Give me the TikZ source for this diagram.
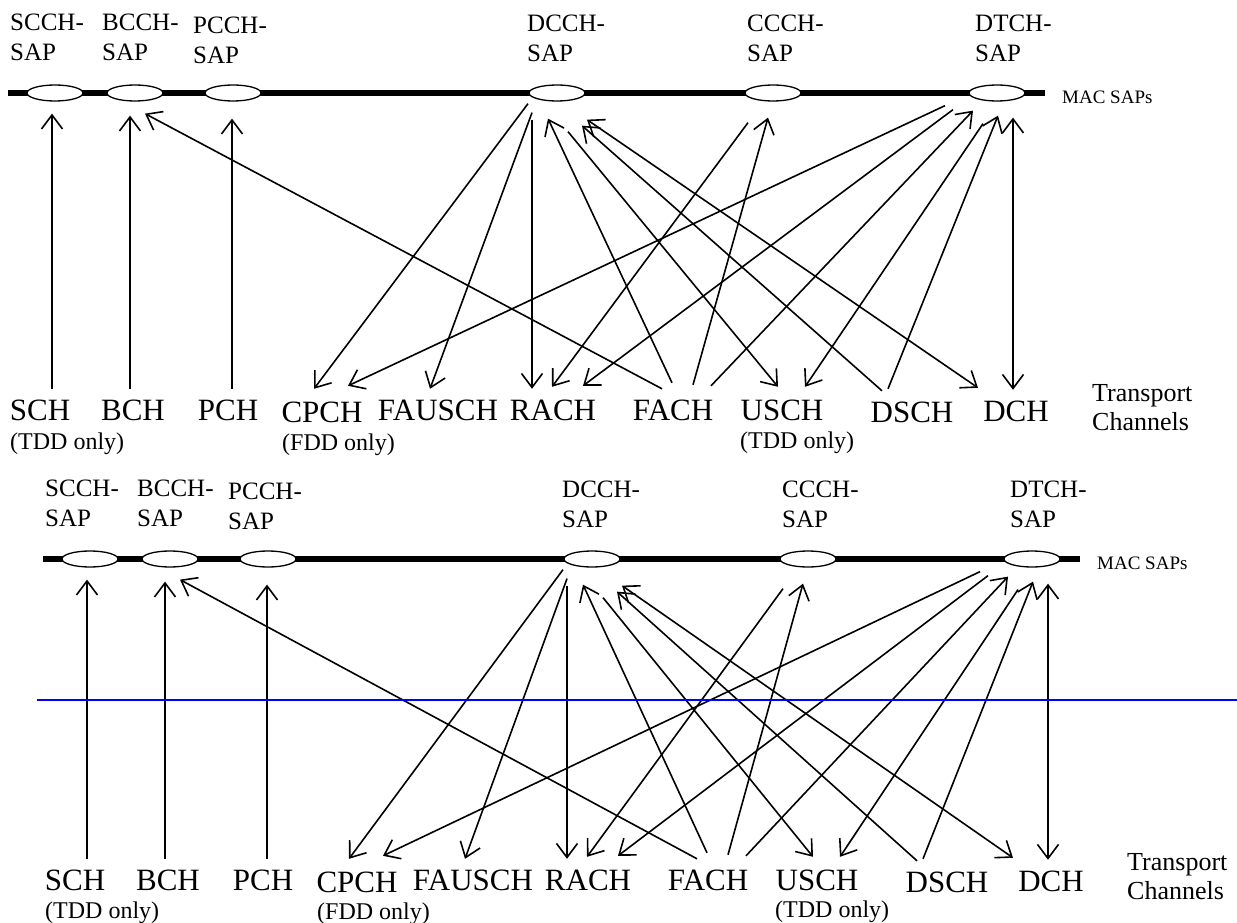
\documentclass[tikz,border=0pt]{standalone}
\usepackage{fontspec}
\setmainfont{Liberation Serif}
\usepackage{tikz}
\usetikzlibrary{shapes,arrows.meta}
\usetikzlibrary{positioning}
\usetikzlibrary{calc}
\definecolor{lineblue}{RGB}{0,0,255}
\newcommand\mysap[5]{%
  \node[sapnode] (#1) at (#2,93) {};
  \node[saplabel] (#1-lbl) at (#3,#4) {#5-\\SAP};
}
\newcommand\mychan[4]{%
  \node[channode] (#1) at (#2,#3) {#4};
}
\newcommand\macdiagram[2]{%
  \draw[macbar] (8,93) -- (1045,93);
  \mysap{scch}{55}{10}{14}{SCCH}
  \mysap{bcch}{135}{102}{14}{BCCH}
  \mysap{pcch}{233}{193}{17}{PCCH}
  \mysap{dcch}{557}{527}{15}{DCCH}
  \mysap{ccch}{773}{747}{15}{CCCH}
  \mysap{dtch}{997}{975}{15}{DTCH}
  \node[maclabel] (mac) at (1062,97) {MAC SAPs};
  \mychan{sch}{40}{420+#1}{SCH}
  \mychan{bch}{133}{420+#1}{BCH}
  \mychan{pch}{228}{420+#1}{PCH}
  \mychan{cpch}{322}{422+#1}{CPCH}
  \mychan{fausch}{438}{420+#1}{FAUSCH}
  \mychan{rach}{553}{420+#1}{RACH}
  \mychan{fach}{673}{420+#1}{FACH}
  \mychan{usch}{782}{420+#1}{USCH}
  \mychan{dsch}{912}{422+#1}{DSCH}
  \mychan{dch}{1016}{421+#1}{DCH}
  \node[sublabel] (sch-note) at (10,449+#2) {(TDD only)};
  \node[sublabel] (cpch-note) at (282,450+#2) {(FDD only)};
  \node[sublabel] (usch-note) at (740,448+#2) {(TDD only)};
  \node[notelabel] (tc) at (1092,384+#2) {Transport\\Channels};
  \draw[conn,->] ([xshift=12pt]sch.north) -- ([xshift=-3pt,yshift=-12pt]scch.south);
  \draw[conn,->] ([xshift=-3pt]bch.north) -- ([xshift=-5pt,yshift=-14pt]bcch.south);
  \draw[conn,->] ([xshift=4pt]pch.north) -- ([xshift=-1pt,yshift=-17pt]pcch.south);
  \draw[conn,->] ([xshift=-11pt]fach.north) -- ([xshift=10pt,yshift=-12pt]bcch.south);
  \draw[conn,->] ([xshift=-29pt,yshift=-2pt]dcch.south) -- ([xshift=-8pt,yshift=2pt]cpch.north);
  \draw[conn,->] ([xshift=-25pt,yshift=-11pt]dcch.south) -- ([xshift=-8pt]fausch.north);
  \draw[conn,->] ([xshift=-25pt,yshift=-18pt]dcch.south) -- ([xshift=-21pt]rach.north);
  \draw[conn,->] ([xshift=-1pt,yshift=6pt]fach.north) -- ([xshift=-9pt,yshift=-17pt]dcch.south);
  \draw[conn,->] ([xshift=11pt,yshift=-30pt]dcch.south) -- ([xshift=-4pt,yshift=2pt]usch.north);
  \draw[conn,->] ([xshift=-30pt]dsch.north) -- ([xshift=25pt,yshift=-24pt]dcch.south);
  \draw[conn,<->] ([xshift=30pt,yshift=-18pt]dcch.south) -- ([xshift=-38pt,yshift=2pt]dch.north);
  \draw[conn,->] ([xshift=-25pt,yshift=-21pt]ccch.south) -- ([xshift=-1pt,yshift=2pt]rach.north);
  \draw[conn,->] ([xshift=20pt,yshift=4pt]fach.north) -- ([xshift=-5pt,yshift=-16pt]ccch.south);
  \draw[conn,->] ([xshift=-52pt,yshift=-4pt]dtch.south) -- ([xshift=26pt,yshift=5pt]cpch.north);
  \draw[conn,->] ([xshift=-44pt,yshift=-8pt]dtch.south) -- ([xshift=30pt,yshift=3pt]rach.north);
  \draw[conn,->] ([xshift=38pt,yshift=3pt]fach.north) -- ([xshift=-24pt,yshift=-9pt]dtch.south);
  \draw[conn,->] ([xshift=-14pt,yshift=-22pt]dtch.south) -- ([xshift=23pt,yshift=2pt]usch.north);
  \draw[conn,->] ([xshift=-24pt,yshift=2pt]dsch.north) -- ([xshift=1pt,yshift=-14pt]dtch.south);
  \draw[conn,<->] ([xshift=-3pt]dch.north) -- ([xshift=16pt,yshift=-16pt]dtch.south);
}

\begin{document}
\begin{tikzpicture}[
x=1pt,y=-1pt,
>={Straight Barb[length=14pt,width=21pt]},
sapnode/.style={ellipse, draw, fill=white, line width=1.3pt,
  minimum width=56pt, minimum height=16pt, inner sep=0pt},
saplabel/.style={anchor=north west, align=left, inner sep=0pt,
  font=\fontsize{25}{30}\selectfont},
channode/.style={anchor=base, inner sep=0pt, text height=31pt, text depth=0pt,
  font=\fontsize{31}{36}\selectfont},
sublabel/.style={anchor=base west, inner sep=0pt,
  font=\fontsize{24}{29}\selectfont},
notelabel/.style={anchor=north west, align=left, inner sep=0pt,
  font=\fontsize{26}{29}\selectfont},
maclabel/.style={anchor=west, inner sep=0pt,
  font=\fontsize{19}{23}\selectfont},
macbar/.style={line width=6.5pt},
conn/.style={line width=1.6pt},
blueline/.style={draw=lineblue, line width=2pt}
]
\useasboundingbox[fill=white] (0,0) rectangle (1237,923);
\macdiagram{0}{0}
\begin{scope}[shift={(35,466)}]
\macdiagram{4}{3}
\end{scope}
\draw[blueline] (37,700) -- (1237,700);
\end{tikzpicture}
\end{document}
